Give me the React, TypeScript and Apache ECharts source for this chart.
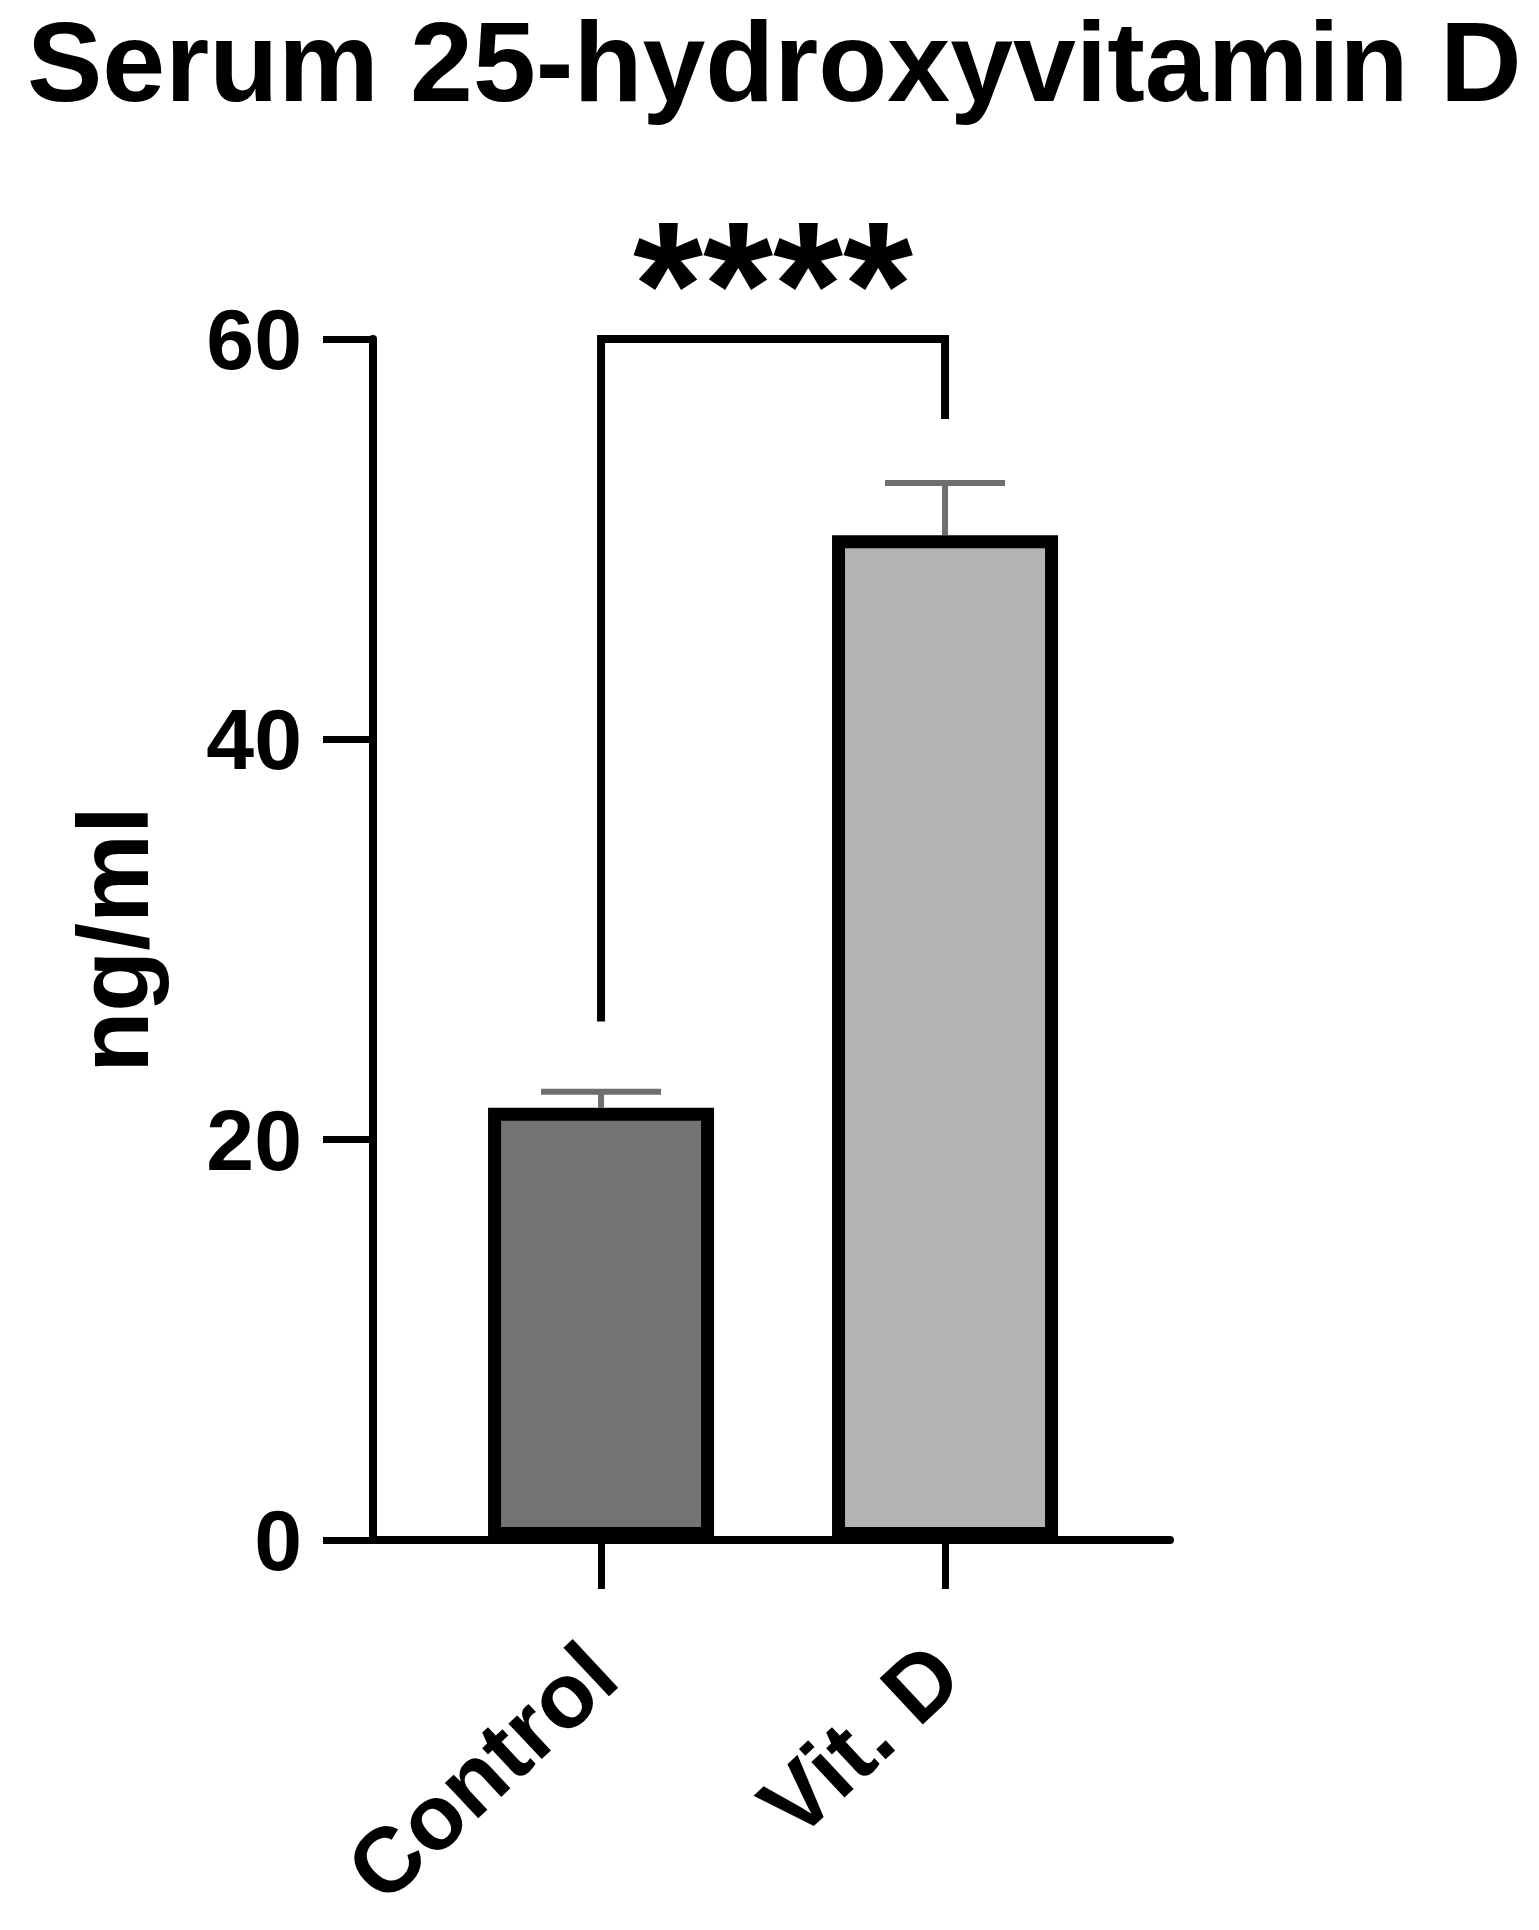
import { useEffect, useRef } from "react";
import * as echarts from "echarts";

const chartTitle = "Serum 25-hydroxyvitamin D";
const yAxisName = "ng/ml";
const categories = ["Control", "Vit. D"];
const categoryPositions = [0, 1];
const means = [21.6, 50.2];
const sems = [0.8, 2.6];
const barColors = ["#737373", "#b3b3b3"];
const yTickValues = [0, 20, 40, 60];
// bracket: from category index, to category index, top value, left leg end, right leg end
const bracketFrom = 0;
const bracketTo = 1;
const bracketTop = 60;
const bracketLeftEnd = 25.9;
const bracketRightEnd = 56.0;
const sigLabel = "****";
const sigLabelValue = 62.7;

const FONT = "'Liberation Sans', Arial, Helvetica, sans-serif";

export default function App() {
  const ref = useRef<HTMLDivElement>(null);

  useEffect(() => {
    if (!ref.current) return;
    const chart = echarts.init(ref.current, null, { renderer: "svg" });

    const barData = categoryPositions.map((x, i) => ({
      value: [x, means[i]],
      itemStyle: { color: barColors[i] },
    }));
    const errData = categoryPositions.map((x, i) => [x, means[i], sems[i]]);

    chart.setOption({
      animation: false,
      backgroundColor: "#ffffff",
      title: {
        text: chartTitle,
        left: 22,
        top: 0,
        textStyle: {
          fontFamily: FONT,
          fontSize: 113,
          fontWeight: "bold",
          color: "#000",
        },
      },
      grid: { left: 373, top: 339, width: 797, height: 1201 },
      xAxis: {
        type: "value",
        min: -0.663,
        max: 1.654,
        splitLine: { show: false },
        axisLine: { show: true, onZero: false, lineStyle: { color: "#000", width: 8 } },
        axisTick: {
          show: true,
          customValues: categoryPositions,
          length: 49,
          lineStyle: { color: "#000", width: 7 },
        },
        axisLabel: {
          customValues: categoryPositions,
          formatter: (v: number) => categories[Math.round(v)] ?? "",
          rotate: 43,
          margin: 120,
          fontFamily: FONT,
          fontSize: 92,
          fontWeight: "bold",
          color: "#000",
        },
      },
      yAxis: {
        type: "value",
        min: 0,
        max: 60,
        interval: 20,
        name: yAxisName,
        nameLocation: "middle",
        nameRotate: 90,
        nameGap: 210,
        nameTextStyle: {
          fontFamily: FONT,
          fontSize: 100,
          fontWeight: "bold",
          color: "#000",
        },
        splitLine: { show: false },
        axisLine: { show: true, onZero: false, lineStyle: { color: "#000", width: 8 } },
        axisTick: {
          show: true,
          customValues: yTickValues,
          length: 50,
          lineStyle: { color: "#000", width: 7 },
        },
        axisLabel: {
          customValues: yTickValues,
          margin: 71,
          padding: [0, 0, 12, 0],
          fontFamily: FONT,
          fontSize: 86,
          fontWeight: "bold",
          color: "#000",
        },
      },
      series: [
        {
          type: "custom",
          name: "err",
          z: 1,
          data: errData,
          renderItem: (params: any, api: any) => {
            const x = api.value(0);
            const m = api.value(1);
            const s = api.value(2);
            const p0 = api.coord([x, m]);
            const p1 = api.coord([x, m + s]);
            const half = 60;
            const style = { stroke: "#6e6e6e", lineWidth: 6, fill: "none" };
            return {
              type: "group",
              children: [
                { type: "line", shape: { x1: p0[0], y1: p0[1], x2: p1[0], y2: p1[1] }, style },
                { type: "line", shape: { x1: p1[0] - half, y1: p1[1], x2: p1[0] + half, y2: p1[1] }, style },
              ],
            };
          },
        },
        {
          type: "bar",
          z: 2,
          barWidth: 226,
          data: barData,
          itemStyle: { borderColor: "#000", borderWidth: 13 },
        },
        {
          type: "custom",
          name: "sig",
          z: 3,
          data: [[bracketFrom, bracketTo, bracketTop, bracketLeftEnd, bracketRightEnd, sigLabelValue]],
          renderItem: (params: any, api: any) => {
            const a = api.coord([api.value(0), api.value(3)]);
            const b = api.coord([api.value(0), api.value(2)]);
            const c = api.coord([api.value(1), api.value(2)]);
            const d = api.coord([api.value(1), api.value(4)]);
            const t = api.coord([(api.value(0) + api.value(1)) / 2, api.value(5)]);
            return {
              type: "group",
              children: [
                {
                  type: "polyline",
                  shape: { points: [a, b, c, d] },
                  style: { stroke: "#000", lineWidth: 8, fill: "none", lineJoin: "miter" },
                },
                {
                  type: "text",
                  x: t[0],
                  y: t[1],
                  style: {
                    text: sigLabel,
                    fontFamily: FONT,
                    fontSize: 180,
                    fontWeight: "bold",
                    fill: "#000",
                    align: "center",
                    verticalAlign: "middle",
                  },
                },
              ],
            };
          },
        },
      ],
    });

    return () => chart.dispose();
  }, []);

  return (
    <div
      ref={ref}
      style={{ position: "absolute", left: 0, top: 0, width: 1539, height: 1930, background: "#fff" }}
    />
  );
}
